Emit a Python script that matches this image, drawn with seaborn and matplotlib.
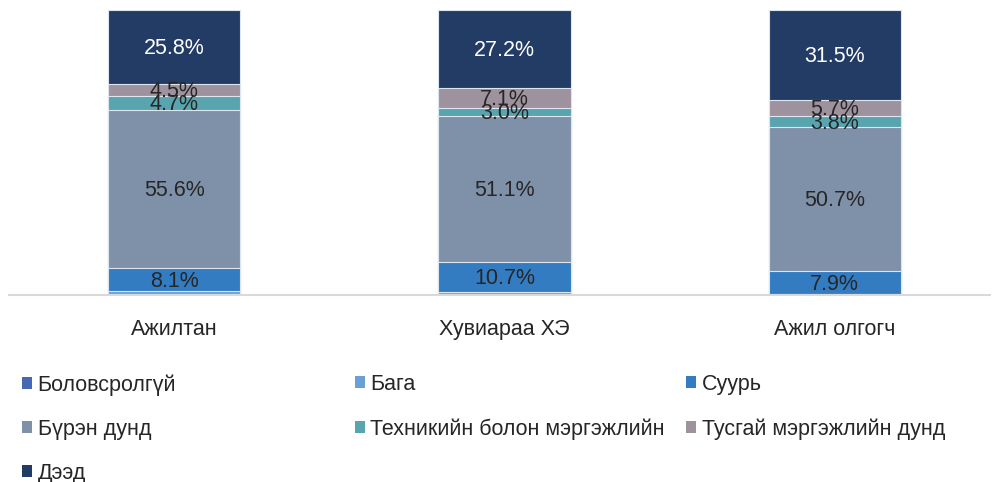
import numpy as np
import pandas as pd
import matplotlib
matplotlib.use("Agg")
import matplotlib.pyplot as plt
import seaborn as sns
from matplotlib.patches import Patch

# -----------------------------
# Data (percent shares)
# -----------------------------
categories = ["Ажилтан", "Хувиараа ХЭ", "Ажил олгогч"]
series_names = ["Боловсролгүй", "Бага", "Суурь", "Бүрэн дунд",
                "Техникийн болон мэргэжлийн", "Тусгай мэргэжлийн дунд", "Дээд"]
bolovsrolgui = [0.3, 0.2, 0.1]
baga = [1.0, 0.7, 0.3]
suur = [8.1, 10.7, 7.9]
buren_dund = [55.6, 51.1, 50.7]
tekhnikiin = [4.7, 3.0, 3.8]
tusgai = [4.5, 7.1, 5.7]
deed = [25.8, 27.2, 31.5]

colors = ["#4468B4", "#69A1D6", "#337CC2", "#7F91A9",
          "#58A4AF", "#9E929E", "#233C66"]

sns.set_theme(style="white")
plt.rcParams["font.family"] = ["Liberation Sans", "DejaVu Sans"]

values = [bolovsrolgui, baga, suur, buren_dund, tekhnikiin, tusgai, deed]
df = pd.DataFrame({name: vals for name, vals in zip(series_names, values)})
df["Category"] = categories
cum = df[series_names].cumsum(axis=1)

fig = plt.figure(figsize=(9.93, 4.82), dpi=100)
ax = fig.add_axes([9 / 993, 1 - 295 / 482, (990 - 9) / 993, (295 - 10) / 482])

# seaborn stacked bars: draw cumulative totals from the top series down
for i in range(len(series_names) - 1, -1, -1):
    sns.barplot(x=categories, y=cum[series_names[i]].values, color=colors[i],
                width=0.4, edgecolor="#dde5ee", linewidth=0.8,
                saturation=1, ax=ax)

# segment labels
for j in range(len(categories)):
    bottom = 0
    for i, name in enumerate(series_names):
        v = df[name].iloc[j]
        if v >= 2:
            txt_color = "white" if name == "Дээд" else "#262626"
            ax.text(j, bottom + v / 2 - 0.6, f"{v:.1f}%", ha="center",
                    va="center", fontsize=15.5, color=txt_color)
        bottom += v

ax.set_ylim(0, 100)
ax.set_xlim(-0.5, 2.47)
ax.set_yticks([])
for s in ["top", "left", "right"]:
    ax.spines[s].set_visible(False)
ax.spines["bottom"].set_color("#d9d9d9")
ax.spines["bottom"].set_linewidth(1.5)
ax.tick_params(axis="x", length=0, pad=17, labelsize=15.5, labelcolor="#262626")

# legend in three columns
legend_cols = [
    ([0, 3, 6], 22 / 993),
    ([1, 4], 355 / 993),
    ([2, 5], 686 / 993),
]
for idx, xpos in legend_cols:
    handles = [Patch(facecolor=colors[k], edgecolor="none") for k in idx]
    labels = [series_names[k] for k in idx]
    fig.legend(handles, labels, loc="upper left",
               bbox_to_anchor=(xpos, 1 - 374 / 482), frameon=False,
               fontsize=15.5, labelcolor="#262626", handlelength=0.47,
               handleheight=0.47, handletextpad=0.25, labelspacing=1.08,
               borderaxespad=0, borderpad=0)

fig.savefig("out.png", dpi=100)
